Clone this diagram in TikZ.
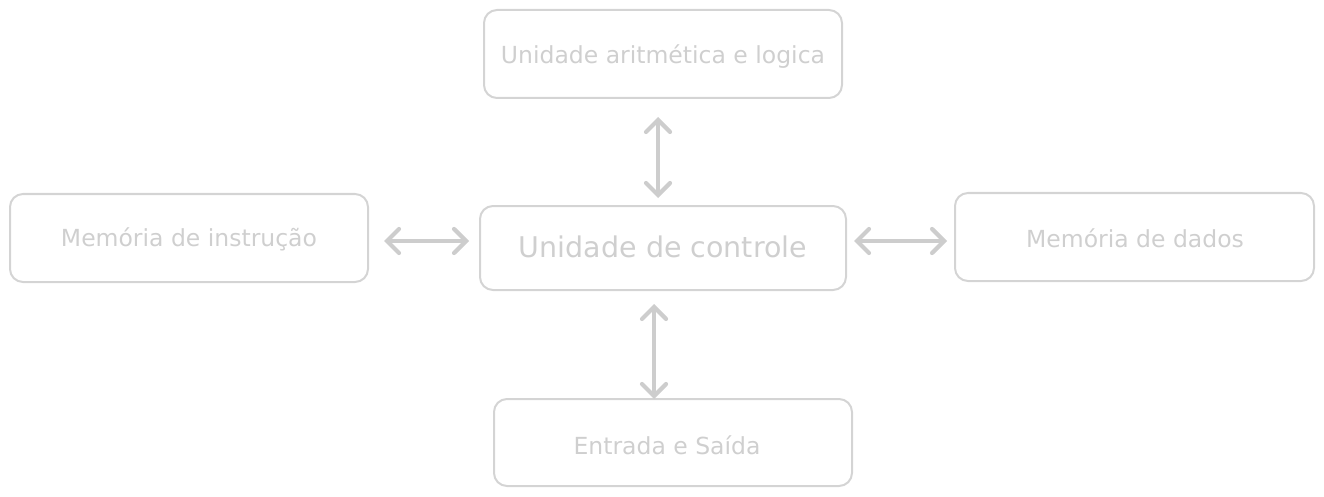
\documentclass[tikz,border=0pt]{standalone}
\usepackage{fontspec}
\setmainfont{DejaVu Sans}[Scale=1.0]
\usetikzlibrary{arrows.meta}
\definecolor{boxgray}{HTML}{D4D4D4}
\definecolor{txtgray}{HTML}{CFCFCF}
\definecolor{arrgray}{HTML}{CDCDCD}
\begin{document}
\begin{tikzpicture}[x=1pt,y=-1pt,
  box/.style={draw=boxgray, line width=2pt, rounded corners=13pt, inner sep=0pt},
  lbl/.style={text=txtgray, font=\fontsize{23.5}{27}\selectfont},
  biglbl/.style={text=txtgray, font=\fontsize{28.5}{33}\selectfont},
  link/.style={draw=arrgray, line width=4.2pt, line cap=round, line join=round,
    {Straight Barb[length=12pt,width=24pt,line cap=round]}-{Straight Barb[length=12pt,width=24pt,line cap=round]}}]
\useasboundingbox (0,0) rectangle (1324,497);
% boxes
\draw[box] (484,10) rectangle (842,98);
\node[lbl] (alu) at (663,57) {Unidade aritmética e logica};
\draw[box] (480,206) rectangle (846,290);
\node[biglbl] (uc) at (663,247) {Unidade de controle};
\draw[box] (10,194) rectangle (368,282);
\node[lbl] (mi) at (189,239) {Memória de instrução};
\draw[box] (955,193) rectangle (1314,281);
\node[lbl] (md) at (1135,238) {Memória de dados};
\draw[box] (494,399) rectangle (852,486);
\node[lbl] (es) at (667,445) {Entrada e Saída};
% connector endpoints
\coordinate (aT) at (658,117);
\coordinate (aB) at (658,198);
\coordinate (lL) at (384,241);
\coordinate (lR) at (469,241);
\coordinate (rL) at (854,241);
\coordinate (rR) at (947,241);
\coordinate (bT) at (654,304);
\coordinate (bB) at (654,399);
\draw[link] (aT) -- (aB);
\draw[link] (lL) -- (lR);
\draw[link] (rL) -- (rR);
\draw[link] (bT) -- (bB);
\end{tikzpicture}
\end{document}
